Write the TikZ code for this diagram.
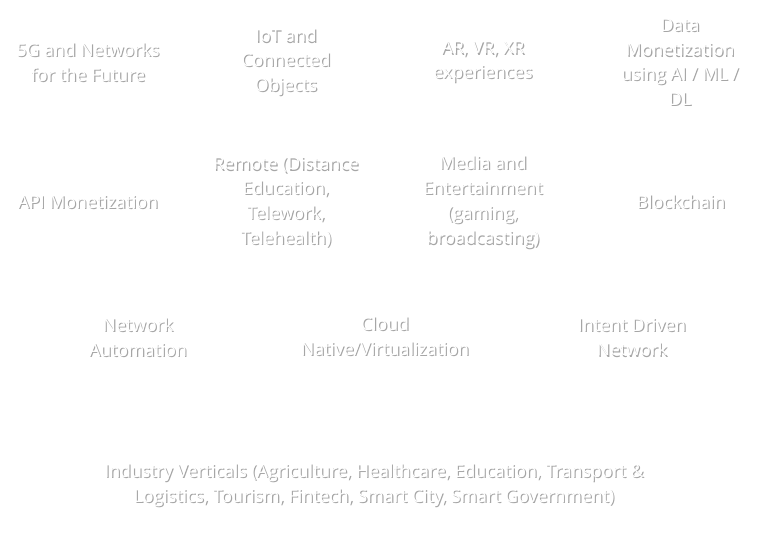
\documentclass[tikz,border=0pt]{standalone}
\usepackage{fontspec}
\setmainfont{Open Sans}
\begin{document}
\begin{tikzpicture}[x=0.75pt,y=-0.75pt]
		\tikzset{topic/.style = {align=center, text=white, inner sep=0pt, font=\fontsize{13.3}{18.6}\selectfont},
			topicshade/.style = {topic, text=black!35}}
		\useasboundingbox (0,0) rectangle (768,546);

		\foreach \name/\px/\py/\txt in {
			fiveG/88/62/{5G and Networks\\for the Future},
			iot/286/62/{IoT and\\Connected\\Objects},
			arvr/483/62/{AR, VR, XR\\experiences},
			datamon/680/62/{Data\\Monetization\\using AI / ML /\\DL},
			apimon/88/202/{API Monetization},
			remote/286/202/{Remote (Distance\\Education,\\Telework,\\Telehealth)},
			media/483/202/{Media and\\Entertainment\\(gaming,\\broadcasting)},
			chain/681/202/{Blockchain},
			netauto/138/337/{Network\\Automation},
			cloud/385/336/{Cloud\\Native/Virtualization},
			intent/632/337/{Intent Driven\\Network},
			verticals/374/485/{Industry Verticals (Agriculture, Healthcare, Education, Transport \&\\Logistics, Tourism, Fintech, Smart City, Smart Government)}}
		{
			\node[topicshade] at (\px+1.2,\py+1.2) {\txt};
			\node[topic] (\name) at (\px,\py) {\txt};
		}

	\end{tikzpicture}
\end{document}
